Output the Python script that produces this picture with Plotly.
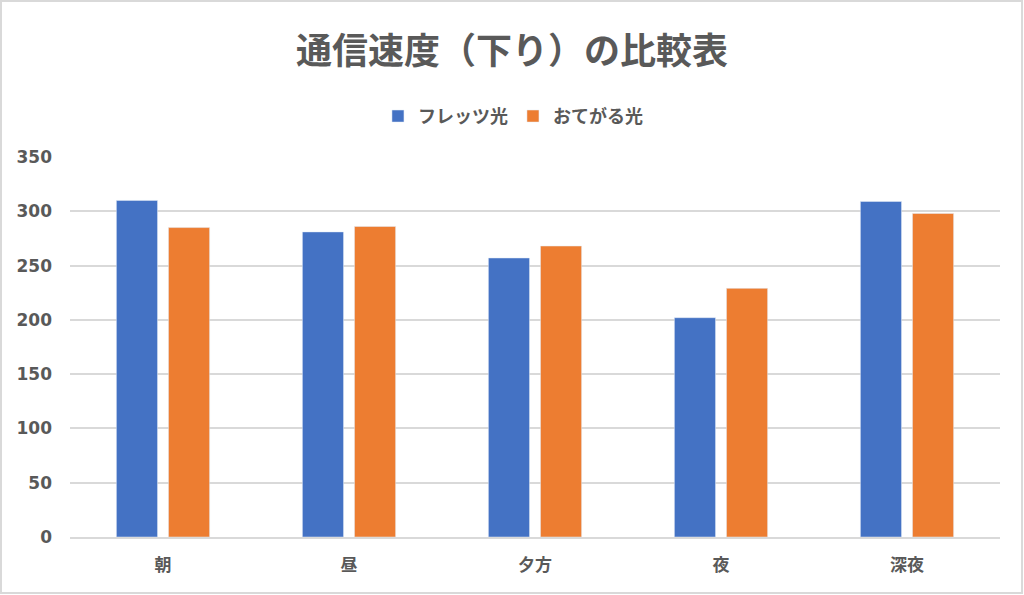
import plotly.graph_objects as go

categories = ["朝", "昼", "夕方", "夜", "深夜"]
flets = [310, 281, 257, 202, 309]
otegaru = [285, 286, 268, 229, 298]
y_ticks = [0, 50, 100, 150, 200, 250, 300, 350]

font_family = "DejaVu Sans, Noto Sans CJK JP"
cjk_family = "Noto Sans CJK JP"
text_color = "#595959"

fig = go.Figure()
fig.add_trace(go.Bar(x=categories, y=flets, name="フレッツ光",
                     marker={"color": "#4472C4"}))
fig.add_trace(go.Bar(x=categories, y=otegaru, name="おてがる光",
                     marker={"color": "#ED7D31"}))

fig.update_layout(
    width=1024,
    height=595,
    paper_bgcolor="white",
    plot_bgcolor="white",
    barmode="group",
    bargap=0.44,
    bargroupgap=0.21,
    margin={"l": 70, "r": 24, "t": 157, "b": 58, "autoexpand": False},
    font={"family": font_family, "color": text_color},
    title={
        "text": "通信速度（下り）の比較表",
        "x": 0.5,
        "xanchor": "center",
        "y": 0.914,
        "yanchor": "middle",
        "font": {"size": 36, "color": text_color, "family": cjk_family,
                 "weight": "bold"},
    },
    legend={
        "orientation": "h",
        "x": 0.4763,
        "xanchor": "center",
        "y": 1.107,
        "yanchor": "middle",
        "font": {"size": 18, "color": text_color, "family": cjk_family,
                 "weight": "bold"},
        "tracegroupgap": 0,
    },
    showlegend=True,
)
fig.update_xaxes(
    showgrid=False,
    showline=True,
    linecolor="#d9d9d9",
    linewidth=1.5,
    ticks="",
    ticklabelstandoff=12,
    tickfont={"size": 17, "color": text_color, "family": cjk_family,
              "weight": "bold"},
)
fig.update_yaxes(
    range=[0, 350],
    tickvals=y_ticks,
    showgrid=True,
    gridcolor="#d9d9d9",
    gridwidth=1.5,
    zeroline=False,
    showline=False,
    ticks="",
    ticklabelstandoff=17,
    tickfont={"size": 17, "color": text_color, "family": font_family,
              "weight": "bold"},
)
fig.add_shape(
    type="rect", xref="paper", yref="paper",
    x0=-0.0742, x1=1.0237, y0=-0.1474, y1=1.4105,
    line={"color": "#d9d9d9", "width": 2},
    layer="below",
)

fig.write_html(
    "out.html",
    config={"displayModeBar": False},
    post_script="document.body.style.margin='0';",
)
